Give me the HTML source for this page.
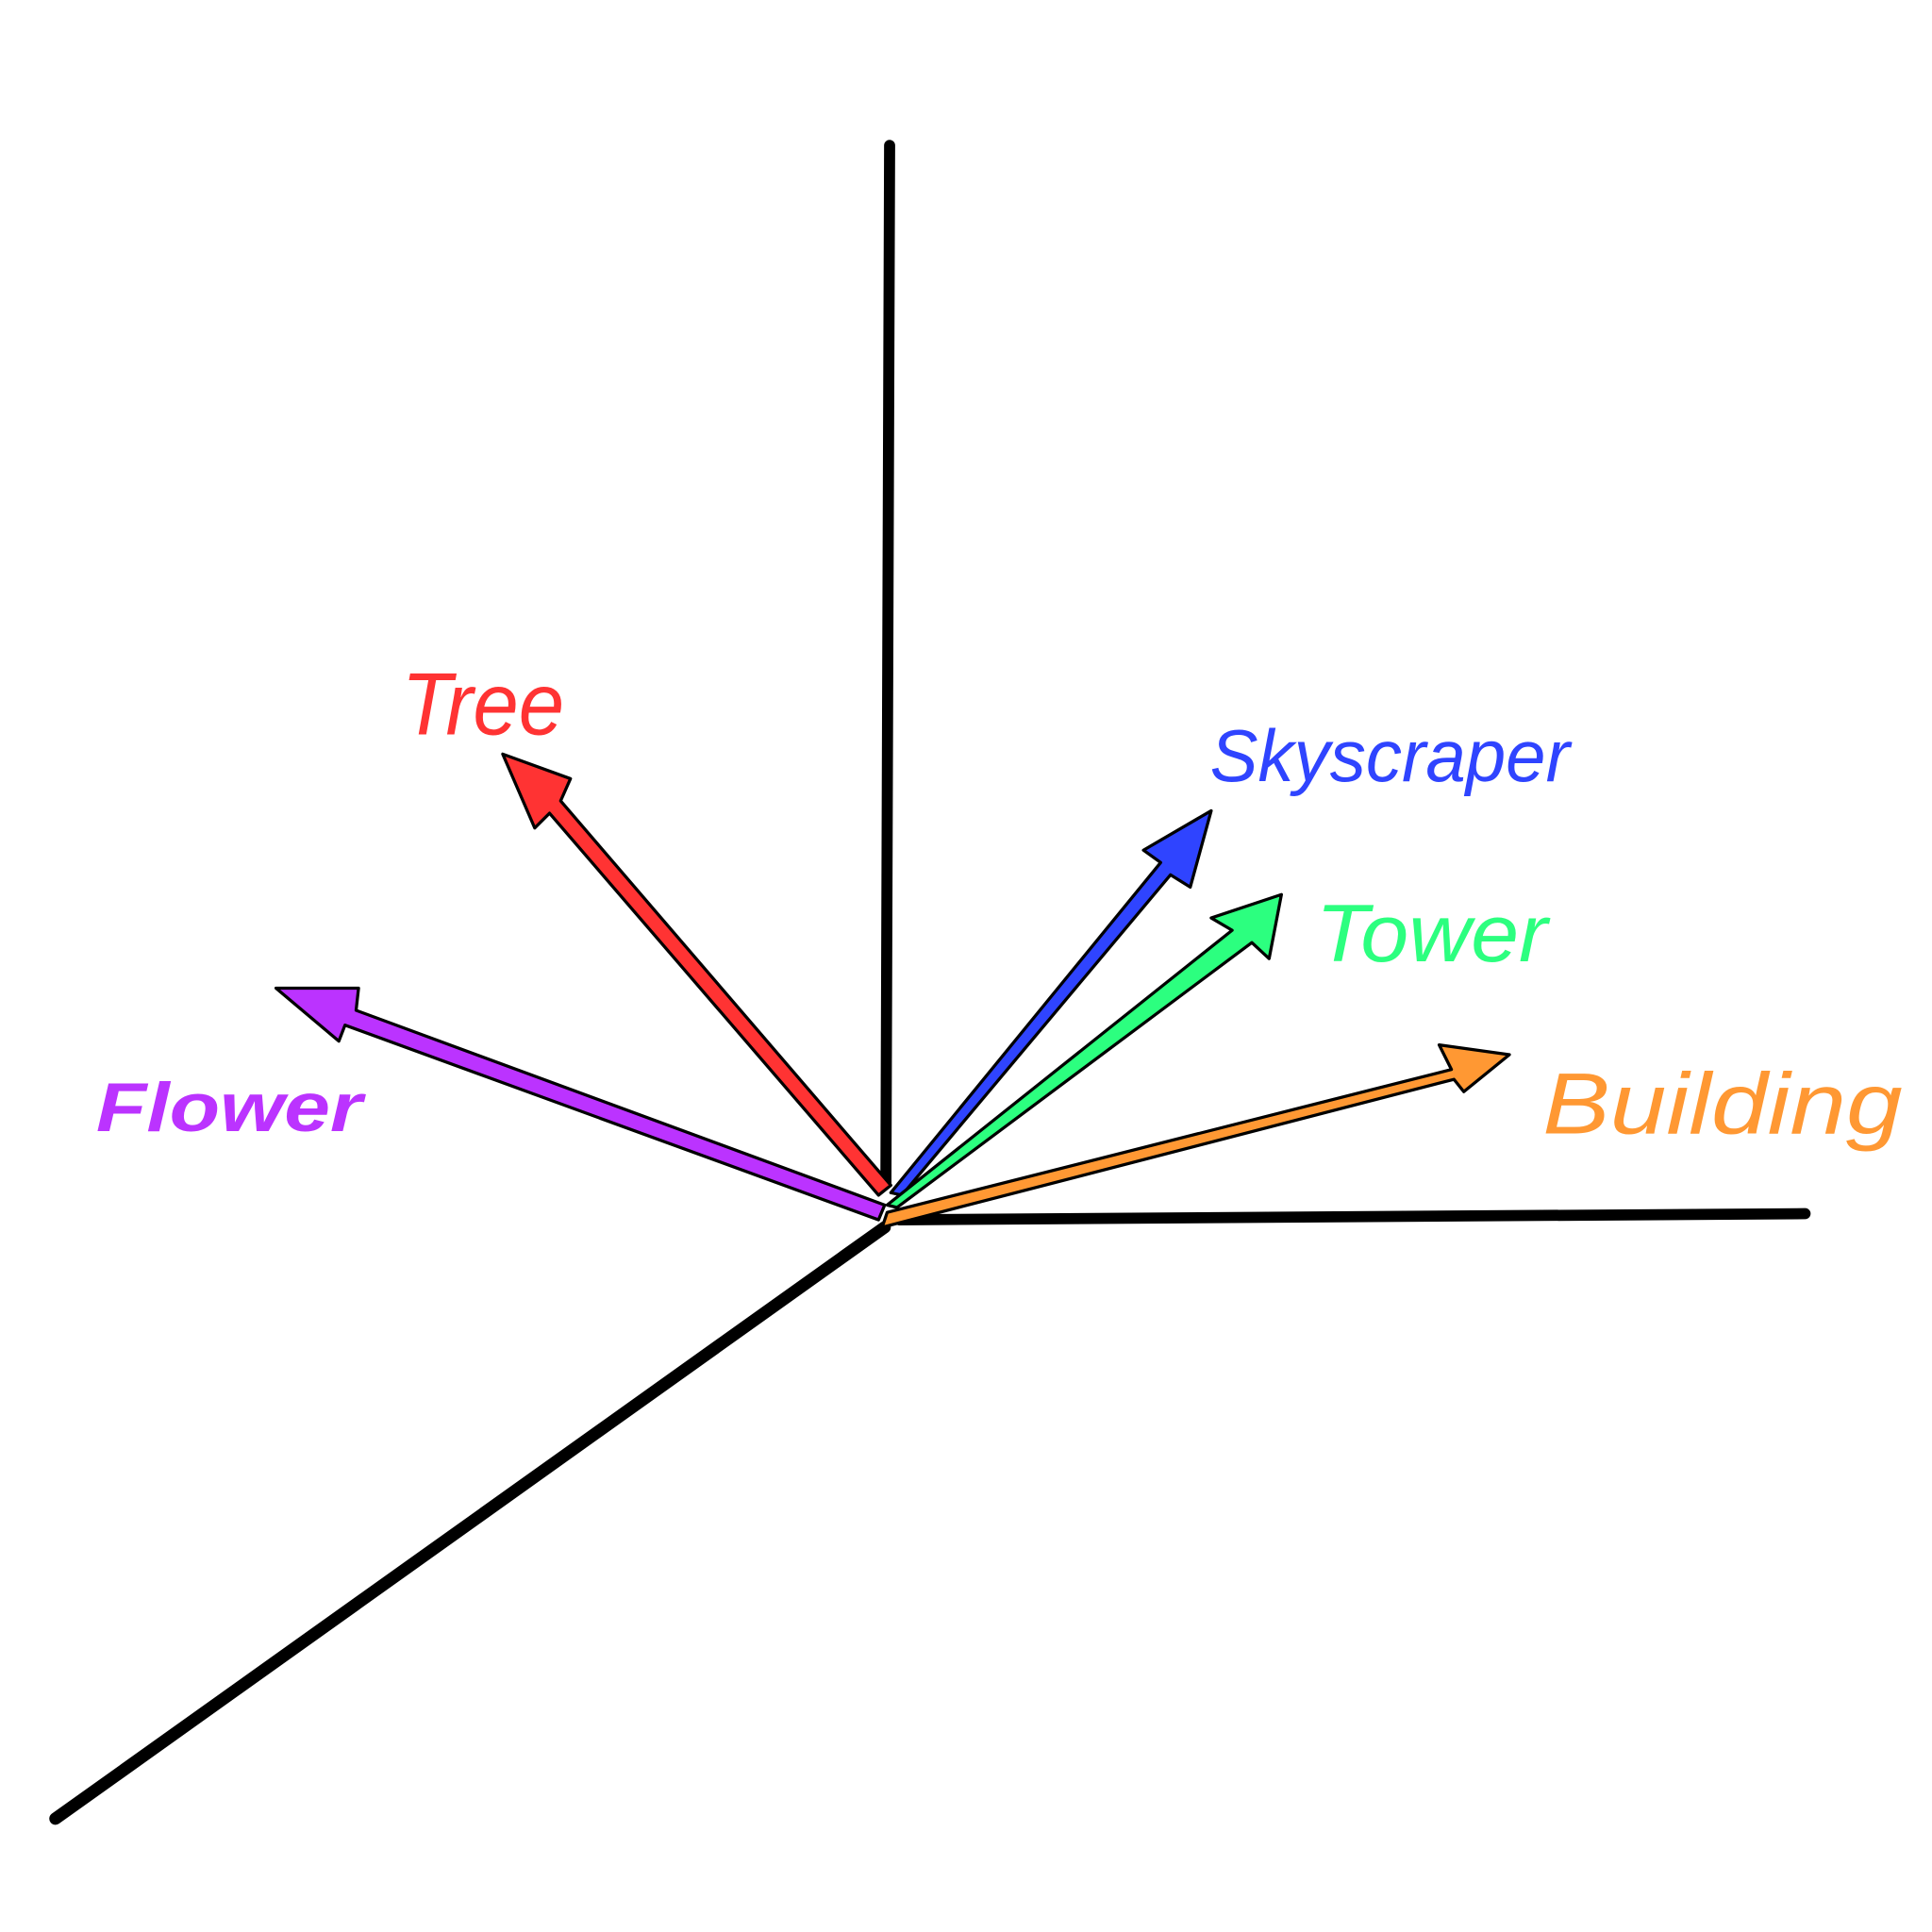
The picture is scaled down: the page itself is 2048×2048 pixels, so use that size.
<!DOCTYPE html>
<html><head><style>html,body{margin:0;padding:0;background:#fff}svg{display:block}</style></head>
<body>
<svg width="2048" height="2048" viewBox="0 0 1568 1568" xmlns="http://www.w3.org/2000/svg">
<g stroke="#000" stroke-linecap="round" fill="none">
<path d="M722,118 L719,960" stroke-width="9"/>
<path d="M730,990 L1465,985" stroke-width="9"/>
<path d="M718,996 L45,1476" stroke-width="10"/>
</g>
<g stroke="#000" stroke-width="2.5" stroke-linejoin="round">
<polygon fill="#ff3333" points="713,970 723,962 455,650 463,632 408,612 434,672 446,660"/>
<polygon fill="#bb33ff" points="713,990 718,978 289,820 291,802 224,802 275,845 280,832"/>
<polygon fill="#2f44ff" points="723,968 732,970 950,710 966,720 983,658 928,690 942,700"/>
<polygon fill="#2cff7f" points="720,978 728,980 1016,765 1030,778 1040,726 983,745 1000,755"/>
<polygon fill="#ff9833" points="716,996 720,984 1178,868 1168,848 1225,856 1188,886 1180,876"/>
</g>
<g font-family="Liberation Sans, sans-serif" font-style="italic">
<text x="326" y="596" fill="#ff3333" font-size="72" textLength="132" lengthAdjust="spacingAndGlyphs">Tree</text>
<text x="982" y="634" fill="#2f44ff" font-size="60" textLength="292" lengthAdjust="spacingAndGlyphs">Skyscraper</text>
<text x="1068" y="780" fill="#2cff7f" font-size="66" textLength="188" lengthAdjust="spacingAndGlyphs">Tower</text>
<text x="1252" y="920" fill="#ff9833" font-size="70" textLength="292" lengthAdjust="spacingAndGlyphs">Building</text>
<text x="78" y="918" fill="#bb33ff" font-size="56" font-weight="bold" textLength="216" lengthAdjust="spacingAndGlyphs">Flower</text>
</g>
</svg>
</body></html>
